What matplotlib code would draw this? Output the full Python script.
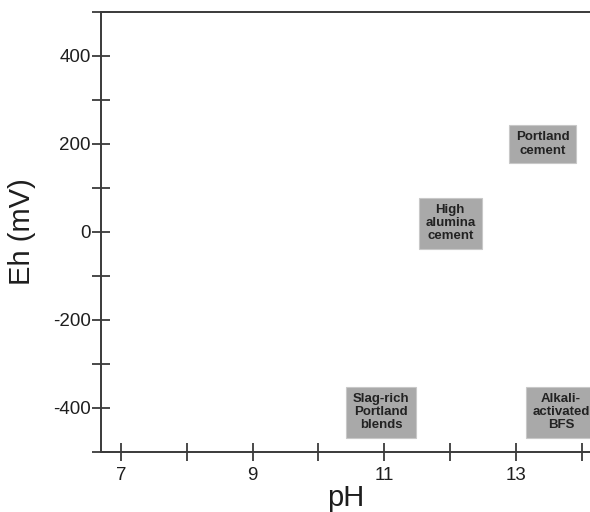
import numpy as np
import matplotlib as mpl
mpl.use('Agg')
import matplotlib.pyplot as plt
from matplotlib.ticker import MultipleLocator

plt.rcParams['font.family'] = ['Liberation Sans', 'DejaVu Sans']
plt.rcParams['axes.unicode_minus'] = False

# binder systems and their typical pore solution pH / Eh
binders = ["Portland\ncement", "High\nalumina\ncement", "Slag-rich\nPortland\nblends", "Alkali-\nactivated\nBFS"]
ph_vals = [13.4, 12.0, 10.95, 13.68]
eh_vals = [200, 20, -410, -410]

x_major = [7, 9, 11, 13]
y_major = [-400, -200, 0, 200, 400]

axcol = '#3a3a3a'

fig = plt.figure(figsize=(5.9, 5.12), dpi=100)
ax = fig.add_axes([101/590, 60/512, 489/590, 440/512])

for name, x, y in zip(binders, ph_vals, eh_vals):
	ax.text(x, y, name, ha='center', va='center', fontsize=9.5, fontweight='bold',
		color='#222222', linespacing=1.12,
		bbox=dict(boxstyle='square,pad=0.5', facecolor='#a9a9a9', edgecolor='#c8c8c8', linewidth=0.8))

ax.set_xlim(6.7, 14.12)
ax.set_ylim(-500, 500)

ax.set_xticks(x_major)
ax.xaxis.set_minor_locator(MultipleLocator(1))
ax.set_yticks(y_major)
ax.yaxis.set_minor_locator(MultipleLocator(100))

ax.tick_params(which='both', direction='inout', length=13, width=1.3, color=axcol,
	labelsize=13.5, labelcolor='#1e1e1e')
ax.tick_params(axis='x', pad=4)
ax.tick_params(axis='y', pad=1)

for s in ['left', 'bottom', 'top']:
	ax.spines[s].set_color(axcol)
	ax.spines[s].set_linewidth(1.4)
ax.spines['right'].set_visible(False)

ax.set_xlabel("pH", fontsize=21, color='#1e1e1e', labelpad=0)
ax.set_ylabel("Eh (mV)", fontsize=21, color='#1e1e1e', labelpad=12)

plt.savefig("out.png", dpi=100)
